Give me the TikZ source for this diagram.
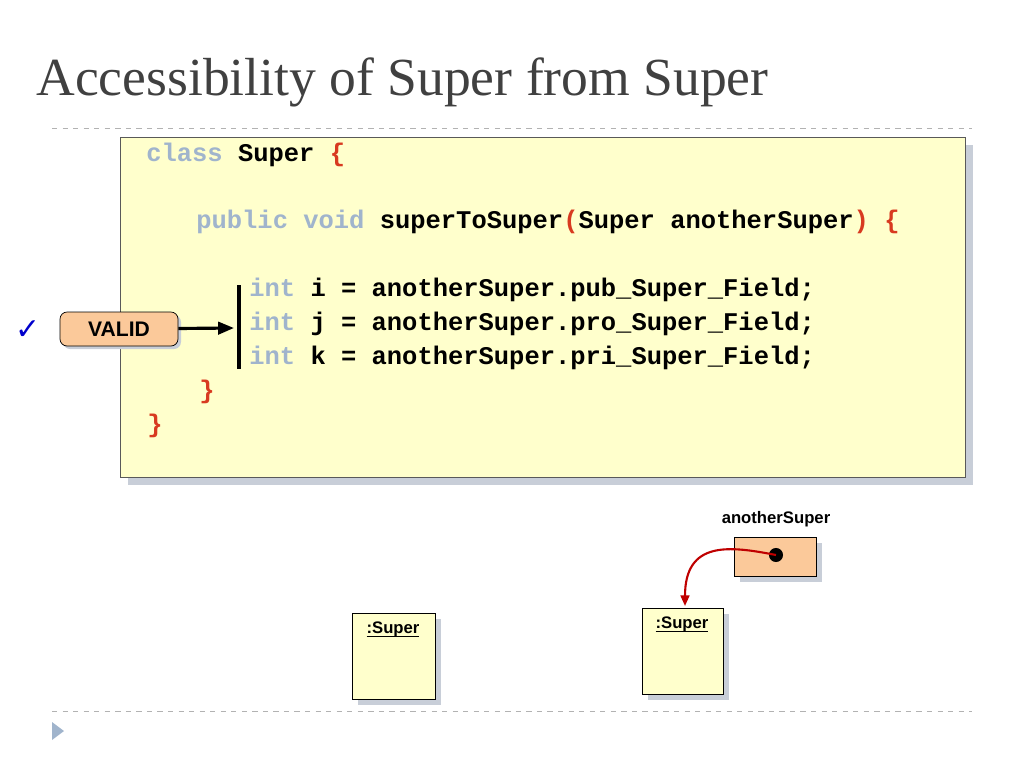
\documentclass[tikz,border=0pt]{standalone}
\usepackage{fontspec}
\setmainfont{Liberation Serif}
\setsansfont{Liberation Sans}
\setmonofont{Liberation Mono}
\newfontfamily\symfont{DejaVu Sans}
\usetikzlibrary{arrows.meta}
\definecolor{paleyellow}{HTML}{FFFFCC}
\definecolor{peach}{HTML}{FBC99A}
\definecolor{kwblue}{HTML}{A0B4CC}
\definecolor{bracered}{HTML}{D83A20}
\definecolor{shadowgrey}{HTML}{C8CED8}
\newcommand{\kw}[1]{\textcolor{kwblue}{#1}}
\newcommand{\br}[1]{\textcolor{bracered}{#1}}
\newcommand{\ul}[1]{\rlap{\rule[-2pt]{\widthof{#1}}{0.6pt}}#1}
\usepackage{calc}
\tikzset{
  code/.style={anchor=west, inner sep=0pt, font=\ttfamily\bfseries\fontsize{14.5}{16}\selectfont},
  objbox/.style={draw, fill=paleyellow, thin},
  objlabel/.style={font=\sffamily\bfseries\fontsize{9.5}{11}\selectfont}
}
\begin{document}
\begin{tikzpicture}[x=0.02cm, y=-0.02cm]
\useasboundingbox (0,0) rectangle (1024,768);

% title and rules
\node[anchor=base west, inner sep=0pt, font=\fontsize{30.5}{34}\selectfont, text=black!75] (title) at (36,95) {Accessibility of Super from Super};
\draw[gray!60, dashed] (52,128) -- (972,128);
\draw[gray!60, dashed] (52,711) -- (972,711);
\fill[kwblue] (52,722) -- (64,731) -- (52,740) -- cycle;

% code box
\fill[shadowgrey] (128,145) rectangle (973,485);
\draw[objbox, draw=gray!70!black] (120,137) rectangle (965,477);
\node[code] (l1) at (146,155) {\kw{class} Super \br{\{}};
\node[code] (l2) at (196,222) {\kw{public void} superToSuper\br{(}Super anotherSuper\br{)} \br{\{}};
\node[code] (l3) at (249,290) {\kw{int} i = anotherSuper.pub\_Super\_Field;};
\node[code] (l4) at (249,324) {\kw{int} j = anotherSuper.pro\_Super\_Field;};
\node[code] (l5) at (249,358) {\kw{int} k = anotherSuper.pri\_Super\_Field;};
\node[code] (l6) at (199,392) {\br{\}}};
\node[code] (l7) at (147,426) {\br{\}}};
\draw[line width=2.5pt] (239,285) -- (239,369);
\coordinate (bar) at (234,328);

% valid marker
\fill[shadowgrey, rounded corners=4pt] (63,315) rectangle (181,349);
\node[draw, fill=peach, rounded corners=4pt, minimum width=118*0.02cm, minimum height=34*0.02cm, inner sep=0pt, font=\sffamily\bfseries\fontsize{12}{14}\selectfont] (valid) at (119,329) {VALID};
\draw[-{Triangle[length=9pt,width=7pt]}, line width=1.8pt] (valid) -- (bar);
\node[text=blue!80!black, font=\symfont\fontsize{17}{20}\selectfont] (tick) at (28,330) {✓};

% objects
\node[objlabel] (reflabel) at (776,519) {anotherSuper};
\fill[shadowgrey] (740,543) rectangle (822,582);
\draw[fill=peach] (734,537) rectangle (816,576);
\fill (776,555) circle (4pt) coordinate (dot);
\fill[shadowgrey] (358,619) rectangle (441,705);
\draw[objbox] (352,613) rectangle (435,699);
\node[objlabel] (s1) at (393,629) {\ul{:Super}};
\fill[shadowgrey] (648,614) rectangle (729,700);
\draw[objbox] (642,608) rectangle (723,694);
\node[objlabel] (s2) at (682,624) {\ul{:Super}};
\coordinate (s2top) at (685,606);
\draw[red!75!black, line width=1.2pt, -{Triangle[length=6pt,width=5pt]}] (dot) .. controls (730,546) and (685,540) .. (s2top);
\end{tikzpicture}
\end{document}
